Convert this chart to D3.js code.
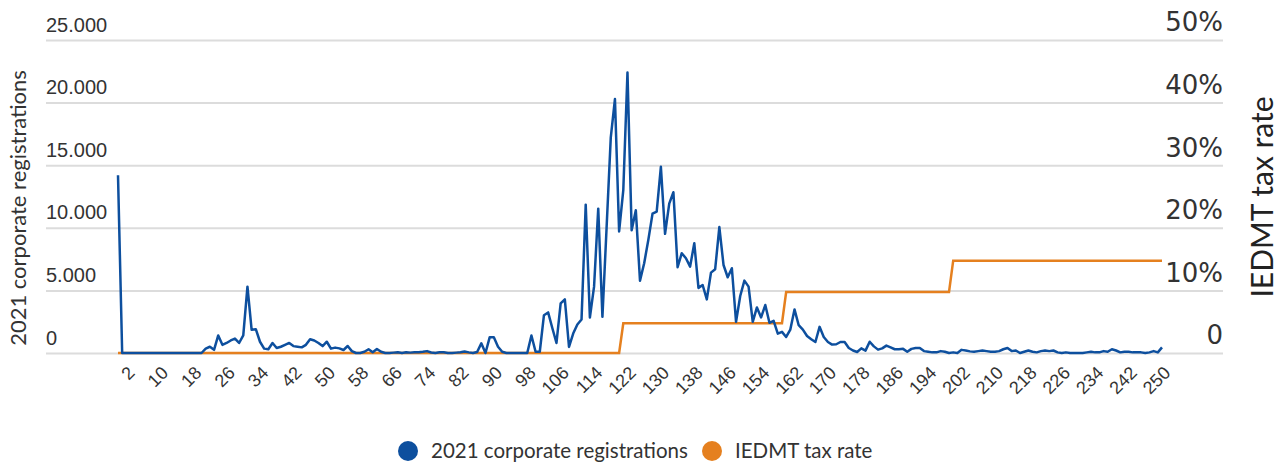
<!DOCTYPE html>
<html>
<head>
<meta charset="utf-8">
<script src="https://cdn.jsdelivr.net/npm/d3@7"></script>
<style>
  body { margin: 0; background: #fff; }
  svg { display: block; font-family: Lato, "Noto Sans", sans-serif; }
</style>
</head>
<body>
<div id="chart"></div>
<script>
// CO2 emission categories (g/km), 0..250
var categories = d3.range(0, 251);

// 2021 corporate registrations per category, index = category
var registrations = [
  14200, 0, 0, 0, 0, 0, 0, 0, 0, 0,
  0, 0, 0, 0, 0, 0, 0, 0, 0, 0,
  0, 350, 500, 250, 1400, 650, 800, 1000, 1150, 800,
  1400, 5300, 1850, 1900, 900, 350, 300, 800, 400, 500,
  650, 800, 550, 500, 450, 650, 1100, 1000, 800, 550,
  900, 350, 430, 370, 240, 560, 150, 0, 0, 100,
  300, 60, 320, 100, 0, 0, 30, 60, 0, 60,
  30, 60, 60, 100, 150, 40, 0, 60, 60, 0,
  0, 30, 60, 120, 50, 0, 80, 770, 0, 1250,
  1250, 500, 100, 0, 0, 0, 0, 0, 0, 1400,
  100, 100, 3020, 3240, 2000, 800, 3960, 4280, 480, 1550,
  2270, 2675, 11850, 2835, 5300, 11530, 2890, 10000, 17200, 20280,
  9710, 13000, 22400, 9800, 11400, 5780, 7170, 9040, 11130, 11300,
  14870, 9520, 11930, 12840, 6850, 7970, 7570, 6900, 8770, 5200,
  5430, 4280, 6420, 6690, 10060, 7030, 6050, 6770, 2490, 4550,
  5780, 5300, 2490, 3640, 2840, 3830, 2410, 2570, 1550, 1690,
  1280, 1870, 3480, 2220, 1870, 1360, 1100, 880, 2090, 1280,
  880, 670, 700, 880, 880, 400, 200, 80, 370, 190,
  900, 530, 270, 370, 590, 450, 300, 300, 330, 100,
  330, 400, 400, 150, 100, 50, 50, 150, 100, 0,
  50, 0, 250, 200, 130, 100, 150, 200, 150, 100,
  100, 150, 300, 400, 150, 200, 0, 100, 200, 100,
  50, 150, 200, 150, 200, 50, 0, 50, 0, 0,
  0, 0, 50, 100, 50, 50, 150, 100, 300, 200,
  50, 100, 100, 50, 50, 50, 0, 50, 150, 50,
  450
];

// IEDMT tax bands: first category of each band and its rate
var taxBandFrom = [0, 121, 160, 200];
var taxBandRate = [0, 0.0475, 0.0975, 0.1475];

var xTickLabels = [2, 10, 18, 26, 34, 42, 50, 58, 66, 74, 82, 90, 98, 106, 114, 122,
  130, 138, 146, 154, 162, 170, 178, 186, 194, 202, 210, 218, 226, 234, 242, 250];
var leftTicks = [0, 5000, 10000, 15000, 20000, 25000];
var rightTicks = [0, 0.1, 0.2, 0.3, 0.4, 0.5];

var seriesNames = ["2021 corporate registrations", "IEDMT tax rate"];
var seriesColors = ["#0d4f9e", "#e5801f"];

var W = 1281, H = 466;
var plotLeft = 118, plotRight = 1162, plotTop = 40, plotBottom = 353;
var gridLeft = 46, gridRight = 1223;

var svg = d3.select("#chart").append("svg")
  .attr("width", W)
  .attr("height", H);

var x = d3.scaleLinear().domain([0, 250]).range([plotLeft, plotRight]);
var yL = d3.scaleLinear().domain([0, 25000]).range([plotBottom, plotTop]);
var yR = d3.scaleLinear().domain([0, 0.5]).range([plotBottom, plotTop]);

var locale = d3.formatLocale({ decimal: ",", thousands: ".", grouping: [3], currency: ["", ""] });
var fmtThousands = locale.format(",");

// gridlines + left labels
var gLeft = svg.append("g")
  .attr("transform", "translate(" + gridLeft + ",0)")
  .call(d3.axisRight(yL).tickValues(leftTicks).tickSize(gridRight - gridLeft).tickFormat(fmtThousands));
gLeft.select(".domain").remove();
gLeft.selectAll("line").attr("stroke", "#dcdcdc").attr("stroke-width", 2);
gLeft.selectAll("text")
  .attr("x", 0)
  .attr("dy", "-0.45em")
  .attr("text-anchor", "start")
  .attr("fill", "#333")
  .style("font-size", "20px");

// right labels
var gRight = svg.append("g")
  .attr("transform", "translate(" + gridRight + ",0)")
  .call(d3.axisLeft(yR).tickValues(rightTicks).tickSize(0)
    .tickFormat(function(d) { return d === 0 ? "0" : Math.round(d * 100) + "%"; }));
gRight.select(".domain").remove();
gRight.selectAll("text")
  .attr("x", 0)
  .attr("dy", "-0.35em")
  .attr("text-anchor", "end")
  .attr("fill", "#333")
  .style("font-family", "'DejaVu Sans', sans-serif")
  .style("font-size", "26px");

// x axis labels
var gX = svg.append("g")
  .attr("transform", "translate(0," + plotBottom + ")")
  .call(d3.axisBottom(x).tickValues(xTickLabels).tickSize(0));
gX.select(".domain").remove();
gX.selectAll("text")
  .attr("y", 0)
  .attr("dy", 0)
  .attr("text-anchor", "end")
  .attr("transform", "translate(9,21) rotate(-45)")
  .attr("fill", "#333")
  .style("font-size", "18px");

// axis titles
svg.append("text")
  .attr("transform", "translate(26,208) rotate(-90)")
  .attr("text-anchor", "middle")
  .attr("fill", "#333")
  .style("font-size", "22px")
  .text("2021 corporate registrations");

svg.append("text")
  .attr("transform", "translate(1273,197) rotate(-90)")
  .attr("text-anchor", "middle")
  .attr("fill", "#222")
  .style("font-size", "30px")
  .text("IEDMT tax rate");

// tax rate per category from the band table
var taxRate = categories.map(function(c) {
  var i = d3.bisectRight(taxBandFrom, c) - 1;
  return taxBandRate[i];
});

var regLine = d3.line()
  .x(function(d, i) { return x(categories[i]); })
  .y(function(d) { return yL(d); });

var taxLine = d3.line()
  .x(function(d, i) { return x(categories[i]); })
  .y(function(d) { return yR(d); });

svg.append("path")
  .datum(taxRate)
  .attr("fill", "none")
  .attr("stroke", seriesColors[1])
  .attr("stroke-width", 2.5)
  .attr("d", taxLine);

svg.append("path")
  .datum(registrations)
  .attr("fill", "none")
  .attr("stroke", seriesColors[0])
  .attr("stroke-width", 2.5)
  .attr("stroke-linejoin", "round")
  .attr("d", regLine);

// legend
var legend = svg.append("g").attr("transform", "translate(0,451)");
var legendX = [408, 712];
seriesNames.forEach(function(name, i) {
  legend.append("circle")
    .attr("cx", legendX[i])
    .attr("cy", 0)
    .attr("r", 10)
    .attr("fill", seriesColors[i]);
  legend.append("text")
    .attr("x", legendX[i] + 23)
    .attr("y", 0)
    .attr("dy", "0.35em")
    .attr("fill", "#333")
    .style("font-size", "20.5px")
    .text(name);
});
</script>
</body>
</html>
